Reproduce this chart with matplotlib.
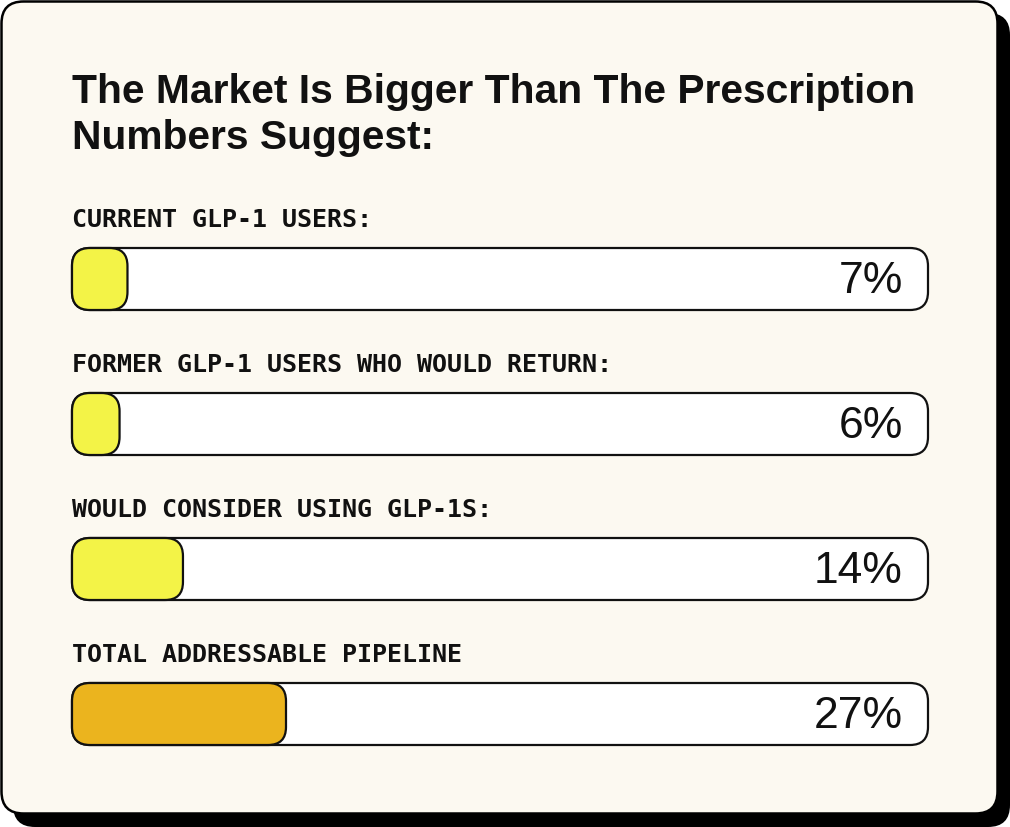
import matplotlib

matplotlib.use("Agg")
import matplotlib.pyplot as plt
from matplotlib.patches import FancyBboxPatch

# chart data
labels = [
    "CURRENT GLP-1 USERS:",
    "FORMER GLP-1 USERS WHO WOULD RETURN:",
    "WOULD CONSIDER USING GLP-1S:",
    "TOTAL ADDRESSABLE PIPELINE",
]
values = [7, 6, 14, 27]
fill_colors = ["#F3F347", "#F3F347", "#F3F347", "#EBB41E"]
title_lines = ["The Market Is Bigger Than The Prescription", "Numbers Suggest:"]

W, H, DPI = 1010, 827, 100
INK = "#111111"
CREAM = "#FCF9F1"

fig = plt.figure(figsize=(W / DPI, H / DPI), dpi=DPI)
fig.patch.set_facecolor("white")

# background axes in pixel units for the card
bg = fig.add_axes([0, 0, 1, 1])
bg.set_xlim(0, W)
bg.set_ylim(H, 0)
bg.axis("off")

shadow = FancyBboxPatch((13, 13), 997, 814, boxstyle="round,pad=0,rounding_size=22",
                        fc="black", ec="none", zorder=1)
card = FancyBboxPatch((1.5, 1.5), 996, 812, boxstyle="round,pad=0,rounding_size=22",
                      fc=CREAM, ec="black", lw=1.8, zorder=2)
bg.add_patch(shadow)
bg.add_patch(card)

# title, fitted to the reference width
target_w = 843
fs = 33
t1 = bg.text(72, 103, title_lines[0], fontsize=fs, fontweight="bold",
             family="Liberation Sans", color=INK, va="baseline", ha="left", zorder=3)
fig.canvas.draw()
w = t1.get_window_extent().width
fs = fs * target_w / w
t1.set_fontsize(fs)
bg.text(72, 149, title_lines[1], fontsize=fs, fontweight="bold",
        family="Liberation Sans", color=INK, va="baseline", ha="left", zorder=3)

# bar axes: track spans x 72..928 px, rows 145 px apart
left, right = 72, 928
row_px = 145
top_px = 279 - row_px / 2
n = len(values)
ax = fig.add_axes([left / W, (H - top_px - n * row_px) / H,
                   (right - left) / W, n * row_px / H])
ax.set_facecolor("none")
ax.axis("off")
xmax = 108
ax.set_xlim(0, xmax)
ax.set_ylim(n - 0.5, -0.5)

x_per_px = xmax / (right - left)
y_per_px = 1 / row_px
aspect = y_per_px / x_per_px
bar_h = 62 * y_per_px
rad = 18 * x_per_px

for i, (lab, val, col) in enumerate(zip(labels, values, fill_colors)):
    track = FancyBboxPatch((0, i - bar_h / 2), xmax, bar_h,
                           boxstyle=f"round,pad=0,rounding_size={rad}",
                           mutation_aspect=aspect, fc="white", ec=INK, lw=1.6,
                           clip_on=False, zorder=2)
    fill = FancyBboxPatch((0, i - bar_h / 2), val, bar_h,
                          boxstyle=f"round,pad=0,rounding_size={rad}",
                          mutation_aspect=aspect, fc=col, ec=INK, lw=1.6,
                          clip_on=False, zorder=3)
    ax.add_patch(track)
    ax.add_patch(fill)
    ax.text(0, i - 52 * y_per_px, lab, fontsize=18, fontweight="bold",
            family="DejaVu Sans Mono", color=INK, va="baseline", ha="left")
    ax.text(xmax - 25 * x_per_px, i + 14 * y_per_px, f"{val}%", fontsize=32,
            family="Liberation Sans", color=INK, va="baseline", ha="right", zorder=4)

fig.savefig("out.png", dpi=DPI, facecolor=fig.get_facecolor())
